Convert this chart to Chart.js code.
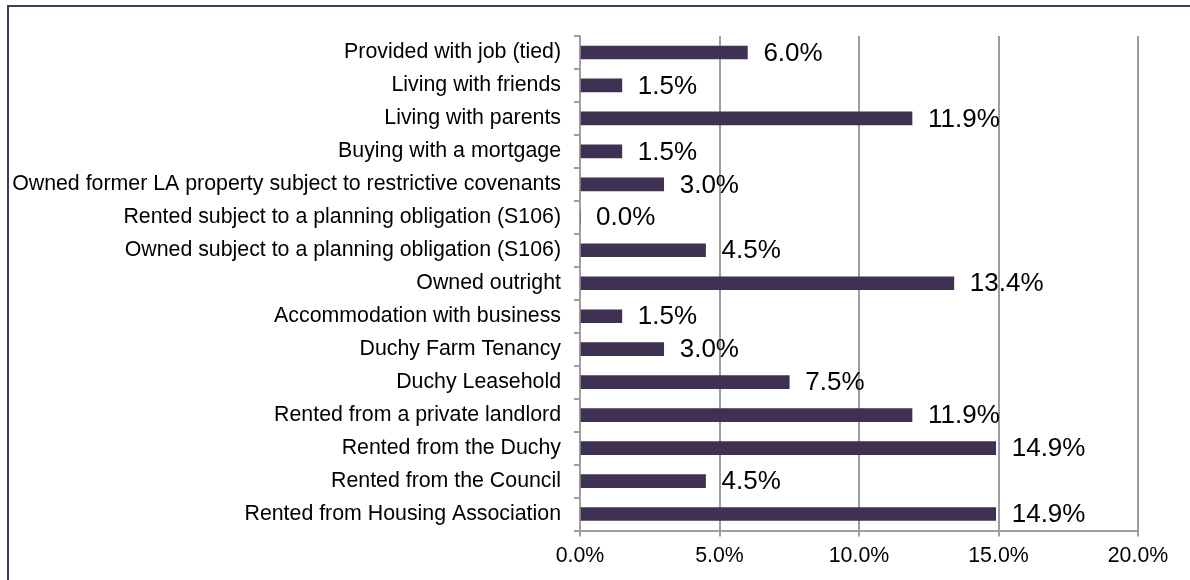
<!DOCTYPE html>
<html>
<head>
<meta charset="utf-8">
<script src="https://cdn.jsdelivr.net/npm/chart.js@4/dist/chart.umd.min.js"></script>
<style>
  html, body { margin: 0; padding: 0; background: #fff; overflow: hidden; }
  #wrap { position: relative; width: 1190px; height: 580px; }
  #frame { position: absolute; left: 7px; top: 5px; width: 1400px; height: 800px; border: 2px solid #463a5c; box-sizing: border-box; }
  canvas { position: absolute; left: 0; top: 0; }
</style>
</head>
<body>
<div id="wrap">
  <div id="frame"></div>
  <canvas id="c" width="1190" height="580"></canvas>
</div>
<script>
const categories = [
  "Provided with job (tied)",
  "Living with friends",
  "Living with parents",
  "Buying with a mortgage",
  "Owned former LA property subject to restrictive covenants",
  "Rented subject to a planning obligation (S106)",
  "Owned subject to a planning obligation (S106)",
  "Owned outright",
  "Accommodation with business",
  "Duchy Farm Tenancy",
  "Duchy Leasehold",
  "Rented from a private landlord",
  "Rented from the Duchy",
  "Rented from the Council",
  "Rented from Housing Association"
];
const percentages = [6.0, 1.5, 11.9, 1.5, 3.0, 0.0, 4.5, 13.4, 1.5, 3.0, 7.5, 11.9, 14.9, 4.5, 14.9];
const xTicks = [0, 5, 10, 15, 20];

const FONT = "'Liberation Sans', Arial, sans-serif";

const valueLabels = {
  id: 'valueLabels',
  afterDatasetsDraw(chart) {
    const ctx = chart.ctx;
    const meta = chart.getDatasetMeta(0);
    ctx.save();
    ctx.font = "26px " + FONT;
    ctx.fillStyle = '#000';
    ctx.textAlign = 'left';
    ctx.textBaseline = 'middle';
    meta.data.forEach((bar, i) => {
      ctx.fillText(percentages[i].toFixed(1) + '%', bar.x + 16, bar.y + 1);
    });
    ctx.restore();
  }
};

new Chart(document.getElementById('c'), {
  type: 'bar',
  data: {
    labels: categories,
    datasets: [{
      data: percentages,
      backgroundColor: '#3f3151',
      borderWidth: 0,
      barThickness: 13
    }]
  },
  options: {
    indexAxis: 'y',
    responsive: false,
    animation: false,
    layout: { padding: { left: 10, right: 52, top: 36, bottom: 0 } },
    plugins: { legend: { display: false }, tooltip: { enabled: false } },
    scales: {
      x: {
        min: 0,
        max: 20,
        afterBuildTicks(axis) { axis.ticks = xTicks.map(v => ({ value: v })); },
        afterFit(axis) { axis.height = 49.5; },
        grid: { color: '#9e9e9e', lineWidth: 2, tickLength: 6, drawTicks: true },
        border: { display: true, color: '#9e9e9e', width: 2 },
        ticks: {
          color: '#000',
          padding: 7,
          font: { family: FONT, size: 21.33 },
          callback: v => v.toFixed(1) + '%'
        }
      },
      y: {
        afterFit(axis) { axis.width = 570; },
        grid: { display: true, drawOnChartArea: false, drawTicks: true, tickLength: 6, color: '#9e9e9e', lineWidth: 2, offset: true },
        border: { display: true, color: '#9e9e9e', width: 2 },
        ticks: {
          color: '#000',
          padding: 13,
          autoSkip: false,
          font: { family: FONT, size: 21.33 }
        }
      }
    }
  },
  plugins: [valueLabels]
});
</script>
</body>
</html>
